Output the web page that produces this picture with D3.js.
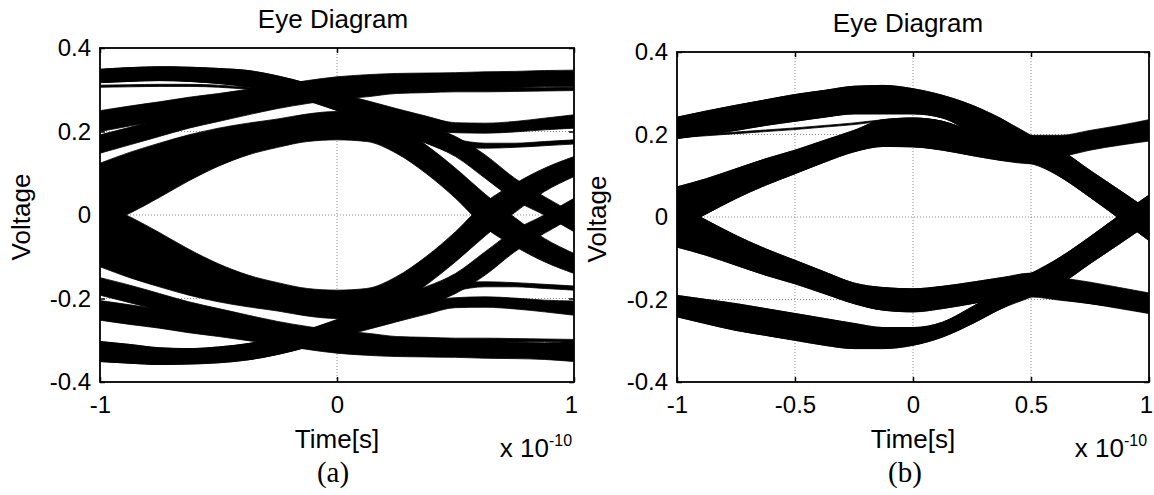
<!DOCTYPE html>
<html>
<head>
<meta charset="utf-8">
<script src="https://cdn.jsdelivr.net/npm/d3@7"></script>
<style>
  html, body { margin: 0; padding: 0; background: #fff; }
  svg { display: block; }
  text { font-family: Arial, "Liberation Sans", Helvetica, sans-serif; fill: #000; }
</style>
</head>
<body>
<svg id="chart" width="1154" height="495"></svg>
<script>
// ---------- data ----------
// sample instants, in units of 1e-10 s
const timeA = [-1, -0.875, -0.75, -0.625, -0.5, -0.375, -0.25, -0.125, 0, 0.125, 0.25, 0.375, 0.5, 0.625, 0.75, 0.875, 1];
const timeB = [-1, -0.875, -0.75, -0.625, -0.5, -0.375, -0.25, -0.125, 0, 0.125, 0.25, 0.375, 0.5, 0.625, 0.75, 0.875, 1];

// axis ticks and labels
const yTicks = [-0.4, -0.2, 0, 0.2, 0.4];
const yTickLabels = ["-0.4", "-0.2", "0", "0.2", "0.4"];
const xTicksA = [-1, 0, 1];
const xTickLabelsA = ["-1", "0", "1"];
const xTicksB = [-1, -0.5, 0, 0.5, 1];
const xTickLabelsB = ["-1", "-0.5", "0", "0.5", "1"];

// panel (a): trace bundles, upper (hi) and lower (lo) voltage envelope at each instant
const aHighFallHi = [0.349, 0.353, 0.355, 0.354, 0.351, 0.346, 0.333, 0.315, 0.293, 0.274, 0.255, 0.237, 0.221, 0.220, 0.224, 0.232, 0.240];
const aHighFallLo = [0.317, 0.320, 0.322, 0.320, 0.315, 0.307, 0.293, 0.274, 0.251, 0.234, 0.216, 0.205, 0.197, 0.196, 0.199, 0.204, 0.208];
const aStrayHi    = [0.311, 0.312, 0.313, 0.313, 0.311, 0.306, 0.298, 0.296, 0.300, 0.302, 0.303, 0.303, 0.304, 0.304, 0.305, 0.305, 0.306];
const aStrayLo    = [0.306, 0.307, 0.308, 0.308, 0.306, 0.301, 0.293, 0.291, 0.295, 0.297, 0.298, 0.298, 0.299, 0.299, 0.300, 0.300, 0.301];
const aMidRiseHi  = [0.250, 0.261, 0.271, 0.282, 0.291, 0.301, 0.311, 0.322, 0.331, 0.336, 0.339, 0.340, 0.341, 0.343, 0.344, 0.346, 0.347];
const aMidRiseLo  = [0.200, 0.213, 0.226, 0.237, 0.248, 0.259, 0.271, 0.282, 0.291, 0.296, 0.299, 0.300, 0.302, 0.303, 0.305, 0.307, 0.307];
const aLowRiseHi  = [0.192, 0.210, 0.228, 0.244, 0.259, 0.274, 0.287, 0.299, 0.307, 0.309, 0.309, 0.307, 0.306, 0.305, 0.304, 0.303, 0.303];
const aLowRiseLo  = [0.148, 0.168, 0.188, 0.208, 0.224, 0.240, 0.255, 0.267, 0.277, 0.283, 0.291, 0.293, 0.295, 0.295, 0.296, 0.297, 0.298];
const aUpperLidHi = [0.124, 0.150, 0.172, 0.192, 0.208, 0.220, 0.230, 0.242, 0.248, 0.242, 0.216, 0.168, 0.112, 0.050, -0.006, -0.056, -0.092];
const aUpperLidLo = [-0.028, 0.004, 0.042, 0.082, 0.117, 0.144, 0.162, 0.176, 0.180, 0.176, 0.148, 0.100, 0.040, -0.030, -0.075, -0.112, -0.140];
const aLateFallHi = [0.349, 0.353, 0.355, 0.354, 0.351, 0.346, 0.333, 0.315, 0.291, 0.269, 0.244, 0.216, 0.188, 0.144, 0.088, 0.044, 0.004];
const aLateFallLo = [0.317, 0.320, 0.322, 0.320, 0.315, 0.307, 0.293, 0.274, 0.250, 0.226, 0.196, 0.172, 0.140, 0.088, 0.036, 0.000, -0.040];
const aMidSettleHi = [0.330, 0.334, 0.336, 0.335, 0.332, 0.326, 0.315, 0.298, 0.278, 0.258, 0.236, 0.206, 0.182, 0.172, 0.172, 0.176, 0.180];
const aMidSettleLo = [0.322, 0.325, 0.327, 0.326, 0.322, 0.315, 0.302, 0.284, 0.262, 0.240, 0.216, 0.184, 0.162, 0.160, 0.162, 0.166, 0.170];

const aLowRiseEndHi = [-0.303, -0.310, -0.318, -0.320, -0.316, -0.308, -0.294, -0.275, -0.252, -0.234, -0.216, -0.205, -0.198, -0.196, -0.199, -0.204, -0.206];
const aLowRiseEndLo = [-0.351, -0.355, -0.358, -0.357, -0.354, -0.347, -0.334, -0.316, -0.294, -0.275, -0.256, -0.238, -0.222, -0.221, -0.225, -0.232, -0.240];
const aMidFallHi  = [-0.205, -0.215, -0.226, -0.237, -0.248, -0.259, -0.271, -0.282, -0.291, -0.296, -0.299, -0.300, -0.302, -0.303, -0.305, -0.306, -0.302];
const aMidFallLo  = [-0.252, -0.262, -0.271, -0.282, -0.291, -0.301, -0.311, -0.322, -0.331, -0.336, -0.339, -0.340, -0.341, -0.343, -0.344, -0.346, -0.351];
const aHighFall2Hi = [-0.150, -0.168, -0.188, -0.208, -0.224, -0.240, -0.255, -0.267, -0.277, -0.283, -0.291, -0.293, -0.295, -0.295, -0.296, -0.297, -0.298];
const aHighFall2Lo = [-0.192, -0.210, -0.228, -0.244, -0.259, -0.274, -0.287, -0.299, -0.307, -0.309, -0.309, -0.307, -0.306, -0.305, -0.304, -0.303, -0.303];
const aLowerLidHi = [0.028, -0.004, -0.042, -0.082, -0.117, -0.144, -0.162, -0.176, -0.180, -0.176, -0.148, -0.100, -0.040, 0.030, 0.075, 0.112, 0.140];
const aLowerLidLo = [-0.124, -0.150, -0.172, -0.192, -0.208, -0.220, -0.230, -0.242, -0.248, -0.242, -0.216, -0.168, -0.112, -0.050, 0.006, 0.056, 0.092];
const aLateRiseHi = [-0.303, -0.310, -0.318, -0.320, -0.316, -0.308, -0.294, -0.275, -0.250, -0.226, -0.196, -0.172, -0.140, -0.088, -0.036, 0.000, 0.040];
const aLateRiseLo = [-0.351, -0.355, -0.358, -0.357, -0.354, -0.347, -0.334, -0.316, -0.291, -0.269, -0.244, -0.216, -0.188, -0.144, -0.088, -0.044, -0.004];
const aLowSettleHi = [-0.318, -0.322, -0.325, -0.326, -0.322, -0.315, -0.302, -0.284, -0.262, -0.240, -0.216, -0.184, -0.162, -0.160, -0.162, -0.166, -0.170];
const aLowSettleLo = [-0.330, -0.334, -0.336, -0.335, -0.332, -0.326, -0.315, -0.298, -0.278, -0.258, -0.236, -0.206, -0.182, -0.172, -0.172, -0.176, -0.180];

// panel (b): trace bundles
const bHighHighHi = [0.242, 0.257, 0.271, 0.284, 0.297, 0.307, 0.317, 0.319, 0.311, 0.295, 0.271, 0.238, 0.198, 0.198, 0.210, 0.222, 0.236];
const bHighHighLo = [0.190, 0.200, 0.210, 0.222, 0.232, 0.242, 0.250, 0.250, 0.250, 0.240, 0.205, 0.170, 0.137, 0.149, 0.166, 0.176, 0.186];
const bStrayHi    = [0.196, 0.201, 0.206, 0.211, 0.216, 0.222, 0.228, 0.236, 0.240, 0.232, 0.210, 0.190, 0.180, 0.186, 0.196, 0.206, 0.214];
const bStrayLo    = [0.192, 0.197, 0.202, 0.207, 0.212, 0.218, 0.224, 0.232, 0.236, 0.228, 0.206, 0.186, 0.176, 0.182, 0.192, 0.202, 0.210];
const bRiseHighHi = [0.073, 0.093, 0.117, 0.141, 0.162, 0.186, 0.210, 0.236, 0.240, 0.232, 0.206, 0.192, 0.186, 0.194, 0.206, 0.220, 0.233];
const bRiseHighLo = [-0.030, 0.008, 0.045, 0.077, 0.105, 0.133, 0.158, 0.171, 0.170, 0.162, 0.149, 0.137, 0.129, 0.145, 0.162, 0.174, 0.184];
const bRiseFallHi = [0.073, 0.093, 0.117, 0.141, 0.162, 0.186, 0.210, 0.236, 0.240, 0.232, 0.206, 0.192, 0.186, 0.162, 0.113, 0.065, 0.016];
const bRiseFallLo = [-0.030, 0.008, 0.045, 0.077, 0.105, 0.133, 0.158, 0.171, 0.170, 0.162, 0.149, 0.137, 0.129, 0.097, 0.048, -0.004, -0.057];
const bHighFallHi = [0.242, 0.257, 0.271, 0.284, 0.297, 0.307, 0.317, 0.319, 0.311, 0.295, 0.271, 0.238, 0.198, 0.162, 0.113, 0.065, 0.016];
const bHighFallLo = [0.190, 0.200, 0.210, 0.222, 0.232, 0.242, 0.250, 0.250, 0.250, 0.240, 0.205, 0.170, 0.137, 0.097, 0.048, -0.004, -0.057];

const bLowLowHi = [-0.190, -0.200, -0.210, -0.222, -0.234, -0.246, -0.258, -0.268, -0.268, -0.255, -0.218, -0.178, -0.137, -0.149, -0.160, -0.174, -0.186];
const bLowLowLo = [-0.242, -0.259, -0.275, -0.287, -0.299, -0.311, -0.319, -0.319, -0.311, -0.291, -0.259, -0.222, -0.194, -0.202, -0.210, -0.222, -0.234];
const bFallLowHi = [0.030, -0.008, -0.045, -0.077, -0.105, -0.133, -0.160, -0.171, -0.174, -0.168, -0.158, -0.147, -0.136, -0.147, -0.158, -0.171, -0.184];
const bFallLowLo = [-0.073, -0.093, -0.117, -0.141, -0.162, -0.186, -0.210, -0.226, -0.230, -0.222, -0.210, -0.198, -0.190, -0.200, -0.210, -0.220, -0.233];
const bFallRiseHi = [0.030, -0.008, -0.045, -0.077, -0.105, -0.133, -0.160, -0.171, -0.174, -0.168, -0.158, -0.147, -0.136, -0.097, -0.048, 0.004, 0.053];
const bFallRiseLo = [-0.073, -0.093, -0.117, -0.141, -0.162, -0.186, -0.210, -0.226, -0.230, -0.222, -0.210, -0.198, -0.190, -0.162, -0.113, -0.065, -0.016];
const bLowRiseHi = [-0.190, -0.200, -0.210, -0.222, -0.234, -0.246, -0.258, -0.268, -0.268, -0.255, -0.218, -0.178, -0.137, -0.097, -0.048, 0.004, 0.053];
const bLowRiseLo = [-0.242, -0.259, -0.275, -0.287, -0.299, -0.311, -0.319, -0.319, -0.311, -0.291, -0.259, -0.222, -0.194, -0.162, -0.113, -0.065, -0.016];

// ---------- drawing ----------
const svg = d3.select("#chart");
svg.append("rect").attr("width", 1154).attr("height", 495).attr("fill", "#fff");

const panels = [
  {
    time: timeA, left: 100, right: 574, top: 48, bottom: 382,
    xTicks: xTicksA, xLabels: xTickLabelsA, xGrid: [0], yGrid: [-0.2, 0, 0.2],
    titleX: 333, titleY: 28, yLabelX: 30, tag: "(a)", tagX: 333,
    bands: [
      [aHighFallHi, aHighFallLo], [aStrayHi, aStrayLo], [aMidRiseHi, aMidRiseLo], [aLowRiseHi, aLowRiseLo],
      [aUpperLidHi, aUpperLidLo], [aLateFallHi, aLateFallLo], [aMidSettleHi, aMidSettleLo],
      [aLowRiseEndHi, aLowRiseEndLo], [aMidFallHi, aMidFallLo], [aHighFall2Hi, aHighFall2Lo],
      [aLowerLidHi, aLowerLidLo], [aLateRiseHi, aLateRiseLo], [aLowSettleHi, aLowSettleLo]
    ]
  },
  {
    time: timeB, left: 677, right: 1149, top: 52, bottom: 382,
    xTicks: xTicksB, xLabels: xTickLabelsB, xGrid: [-0.5, 0, 0.5], yGrid: [-0.2, 0, 0.2],
    titleX: 908, titleY: 32, yLabelX: 606, tag: "(b)", tagX: 905,
    bands: [
      [bHighHighHi, bHighHighLo], [bStrayHi, bStrayLo], [bRiseHighHi, bRiseHighLo],
      [bRiseFallHi, bRiseFallLo], [bHighFallHi, bHighFallLo],
      [bLowLowHi, bLowLowLo], [bFallLowHi, bFallLowLo], [bFallRiseHi, bFallRiseLo], [bLowRiseHi, bLowRiseLo]
    ]
  }
];

panels.forEach(p => {
  const x = d3.scaleLinear().domain([-1, 1]).range([p.left, p.right]);
  const y = d3.scaleLinear().domain([-0.4, 0.4]).range([p.bottom, p.top]);
  const g = svg.append("g");

  // dotted grid
  g.selectAll(".gx").data(p.xGrid).join("line")
    .attr("x1", d => x(d)).attr("x2", d => x(d))
    .attr("y1", p.top).attr("y2", p.bottom)
    .attr("stroke", "#8c8c8c").attr("stroke-width", 1).attr("stroke-dasharray", "1,2");
  g.selectAll(".gy").data(p.yGrid).join("line")
    .attr("x1", p.left).attr("x2", p.right)
    .attr("y1", d => y(d)).attr("y2", d => y(d))
    .attr("stroke", "#8c8c8c").attr("stroke-width", 1).attr("stroke-dasharray", "1,2");

  // trace bundles
  const area = d3.area()
    .x(d => x(d.t))
    .y0(d => y(d.lo))
    .y1(d => y(d.hi))
    .curve(d3.curveMonotoneX);
  const clipId = "clip" + p.left;
  svg.append("clipPath").attr("id", clipId).append("rect")
    .attr("x", p.left).attr("y", p.top).attr("width", p.right - p.left).attr("height", p.bottom - p.top);
  const bandG = g.append("g").attr("clip-path", `url(#${clipId})`);
  p.bands.forEach(([hi, lo]) => {
    const pts = p.time.map((t, i) => ({ t, hi: hi[i], lo: lo[i] }));
    bandG.append("path").attr("d", area(pts))
      .attr("fill", "#000").attr("stroke", "#000").attr("stroke-width", 0.8);
  });

  // axes with inward ticks
  const fmtX = d => p.xLabels[p.xTicks.indexOf(d)];
  const fmtY = d => yTickLabels[yTicks.indexOf(d)];
  const style = sel => {
    sel.select(".domain").remove();
    sel.selectAll("line").attr("stroke", "#000").attr("stroke-width", 1.5);
    sel.selectAll("text").attr("font-size", 24).attr("font-family", "Arial, 'Liberation Sans', sans-serif");
    sel.attr("font-size", null).attr("font-family", null);
  };
  const bottomAxis = g.append("g").attr("transform", `translate(0,${p.bottom})`)
    .call(d3.axisBottom(x).tickValues(p.xTicks).tickFormat(fmtX).tickSize(-5).tickPadding(14)).call(style);
  // keep the right-most label inside the page
  bottomAxis.selectAll(".tick").filter(d => d === 1).select("text").attr("dx", -3);
  g.append("g").attr("transform", `translate(0,${p.top})`)
    .call(d3.axisTop(x).tickValues(p.xTicks).tickFormat("").tickSize(-5)).call(style);
  g.append("g").attr("transform", `translate(${p.left},0)`)
    .call(d3.axisLeft(y).tickValues(yTicks).tickFormat(fmtY).tickSize(-5).tickPadding(9)).call(style);
  g.append("g").attr("transform", `translate(${p.right},0)`)
    .call(d3.axisRight(y).tickValues(yTicks).tickFormat("").tickSize(-5)).call(style);

  // frame
  g.append("rect")
    .attr("x", p.left).attr("y", p.top)
    .attr("width", p.right - p.left).attr("height", p.bottom - p.top)
    .attr("fill", "none").attr("stroke", "#000").attr("stroke-width", 1.8);

  // titles and labels
  g.append("text").attr("x", p.titleX).attr("y", p.titleY)
    .attr("text-anchor", "middle").attr("font-size", 26).text("Eye Diagram");
  g.append("text").attr("x", (p.left + p.right) / 2).attr("y", 448)
    .attr("text-anchor", "middle").attr("font-size", 26).text("Time[s]");
  g.append("text")
    .attr("transform", `translate(${p.yLabelX},${(p.top + p.bottom) / 2 + 2}) rotate(-90)`)
    .attr("text-anchor", "middle").attr("font-size", 26).text("Voltage");
  g.append("text").attr("x", p.right - 25).attr("y", 457)
    .attr("text-anchor", "end").attr("font-size", 26).text("x 10");
  g.append("text").attr("x", p.right - 25).attr("y", 446)
    .attr("text-anchor", "start").attr("font-size", 16).text("-10");
  g.append("text").attr("x", p.tagX).attr("y", 482)
    .attr("text-anchor", "middle").attr("font-size", 29)
    .style("font-family", "'Liberation Serif', 'Times New Roman', serif").text(p.tag);
});
</script>
</body>
</html>
